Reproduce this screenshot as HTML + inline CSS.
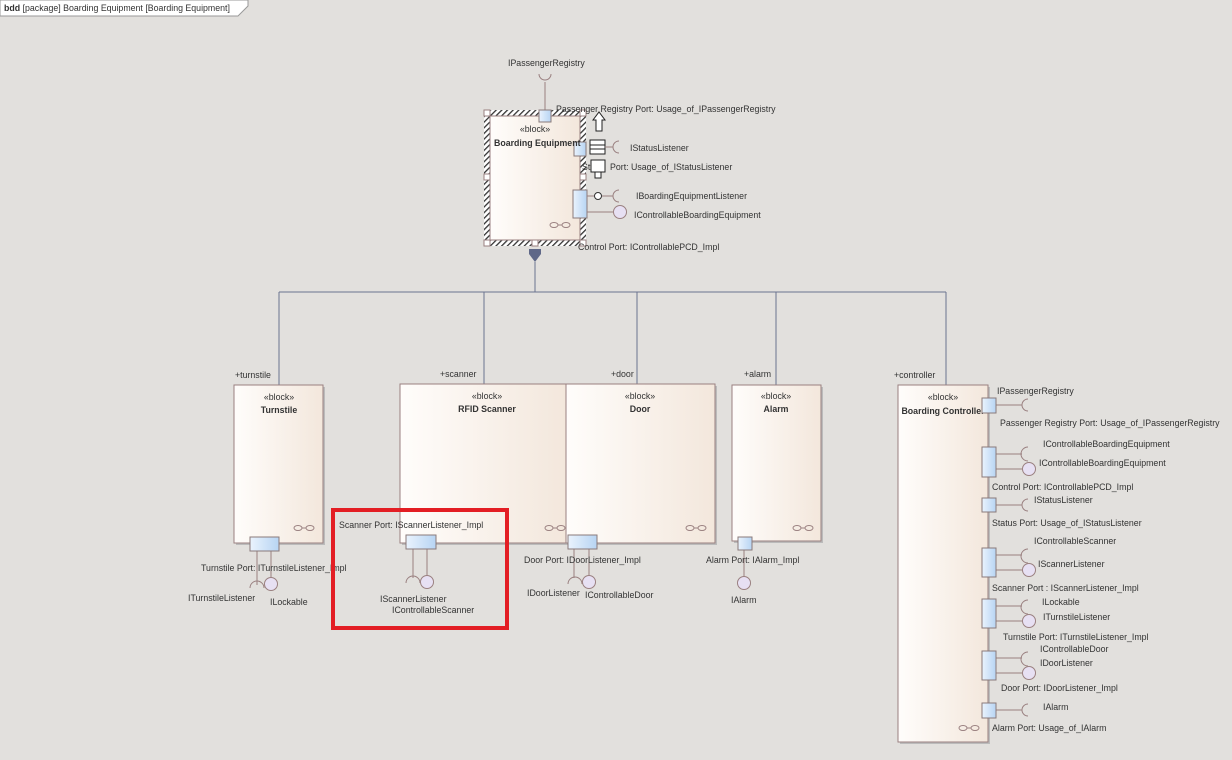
<!DOCTYPE html>
<html><head><meta charset="utf-8"><style>
html,body{margin:0;padding:0;background:#e2e0dd;}
svg{display:block;font-family:"Liberation Sans",sans-serif;font-size:8.8px;fill:#333;}
</style></head><body>
<svg width="1232" height="760" viewBox="0 0 1232 760" xmlns="http://www.w3.org/2000/svg">
<defs>
<linearGradient id="bg" x1="0" x2="1" y1="0" y2="0"><stop offset="0" stop-color="#fffdfb"/><stop offset="1" stop-color="#f3e7dc"/></linearGradient>
<linearGradient id="pg" x1="0" x2="1" y1="0" y2="0"><stop offset="0" stop-color="#eaf3fd"/><stop offset="1" stop-color="#b7d4f3"/></linearGradient>
<pattern id="hat" width="4" height="4" patternUnits="userSpaceOnUse" patternTransform="rotate(45)"><rect width="4" height="4" fill="#fff"/><rect width="1.3" height="4" fill="#333"/></pattern>
</defs>
<rect width="1232" height="760" fill="#e2e0dd"/>
<path d="M0 0 H248 V6 L238 16 H0 Z" fill="#fff" stroke="#999" stroke-width="1"/>
<text x="4" y="11"><tspan font-weight="bold">bdd</tspan> [package] Boarding Equipment [Boarding Equipment]</text>

<g stroke="#6b7390" stroke-width="1" fill="none">
<line x1="535" y1="262" x2="535" y2="292"/>
<line x1="279" y1="292" x2="946" y2="292"/>
<line x1="279" y1="292" x2="279" y2="385"/>
<line x1="484" y1="292" x2="484" y2="384"/>
<line x1="637" y1="292" x2="637" y2="384"/>
<line x1="776" y1="292" x2="776" y2="385"/>
<line x1="946" y1="292" x2="946" y2="385"/>
</g>
<polygon points="529,249 541,249 541,254 535,262 529,254" fill="#5f6888"/>

<rect x="484" y="110" width="102" height="136" fill="url(#hat)"/>
<rect x="490" y="116" width="90" height="124" fill="url(#bg)" stroke="#9a8080"/>
<g fill="#fff" stroke="#9a8080"><rect x="484" y="110" width="6" height="6"/><rect x="580" y="110" width="6" height="6"/><rect x="484" y="174" width="6" height="6"/><rect x="580" y="174" width="6" height="6"/><rect x="484" y="240" width="6" height="6"/><rect x="532" y="240" width="6" height="6"/><rect x="580" y="240" width="6" height="6"/></g>
<g fill="none" stroke="#9a8080"><ellipse cx="554" cy="225" rx="4" ry="2.5"/><ellipse cx="566" cy="225" rx="4" ry="2.5"/><line x1="558" y1="225" x2="562" y2="225"/></g>
<text x="508" y="66">IPassengerRegistry</text>
<g stroke="#9a8080" fill="none"><line x1="545" y1="82" x2="545" y2="110"/><path d="M539 74 A6 6 0 0 0 551 74"/></g>
<rect x="539" y="110" width="12" height="12" fill="url(#pg)" stroke="#8a7a7a"/>
<text x="556" y="112">Passenger Registry Port: Usage_of_IPassengerRegistry</text>
<path d="M596 131 V120 H593 L599 112 L605 120 H602 V131 Z" fill="#fff" stroke="#222"/>
<rect x="574" y="142" width="12" height="14" fill="url(#pg)" stroke="#8a7a7a"/>
<text x="535" y="132" text-anchor="middle">«block»</text>
<text x="494" y="146" font-weight="bold">Boarding Equipment</text>
<rect x="590" y="140" width="15" height="14" fill="#fff" stroke="#222"/><line x1="590" y1="145" x2="605" y2="145" stroke="#222"/><line x1="590" y1="149" x2="605" y2="149" stroke="#222"/>
<g stroke="#9a8080" fill="none"><line x1="605" y1="147" x2="613" y2="147"/><path d="M619 141 A6 6 0 0 0 619 153"/></g>
<text x="630" y="151">IStatusListener</text>
<text x="582" y="170">St</text><text x="610" y="170">Port: Usage_of_IStatusListener</text>
<rect x="591" y="160" width="14" height="12" fill="#fff" stroke="#222"/><rect x="595" y="172" width="6" height="6" fill="#fff" stroke="#222"/>
<rect x="573" y="190" width="14" height="28" fill="url(#pg)" stroke="#8a7a7a"/>
<g stroke="#9a8080" fill="none"><line x1="587" y1="196" x2="595" y2="196"/><line x1="601" y1="196" x2="613" y2="196"/><path d="M619 190 A6 6 0 0 0 619 202"/><line x1="587" y1="212" x2="613" y2="212"/></g>
<circle cx="598" cy="196" r="3.5" fill="#fff" stroke="#333"/>
<circle cx="620" cy="212" r="6.5" fill="#e7e0f3" stroke="#9a8080"/>
<text x="636" y="199">IBoardingEquipmentListener</text>
<text x="634" y="218">IControllableBoardingEquipment</text>
<text x="578" y="250">Control Port: IControllablePCD_Impl</text>

<g stroke="#9a8080">
<rect x="236" y="387" width="89" height="158" fill="#bbb" stroke="none"/>
<rect x="234" y="385" width="89" height="158" fill="url(#bg)"/>
<rect x="402" y="386" width="166" height="159" fill="#bbb" stroke="none"/>
<rect x="400" y="384" width="166" height="159" fill="url(#bg)"/>
<rect x="568" y="386" width="149" height="159" fill="#bbb" stroke="none"/>
<rect x="566" y="384" width="149" height="159" fill="url(#bg)"/>
<rect x="734" y="387" width="89" height="156" fill="#bbb" stroke="none"/>
<rect x="732" y="385" width="89" height="156" fill="url(#bg)"/>
<rect x="900" y="387" width="90" height="357" fill="#bbb" stroke="none"/>
<rect x="898" y="385" width="90" height="357" fill="url(#bg)"/>
</g>
<g text-anchor="middle">
<text x="279" y="400">«block»</text><text x="279" y="413" font-weight="bold">Turnstile</text>
<text x="487" y="399">«block»</text><text x="487" y="412" font-weight="bold">RFID Scanner</text>
<text x="640" y="399">«block»</text><text x="640" y="412" font-weight="bold">Door</text>
<text x="776" y="399">«block»</text><text x="776" y="412" font-weight="bold">Alarm</text>
<text x="943" y="400">«block»</text><text x="943" y="414" font-weight="bold">Boarding Controller</text>
</g>
<text x="235" y="378">+turnstile</text><text x="440" y="377">+scanner</text><text x="611" y="377">+door</text><text x="744" y="377">+alarm</text><text x="894" y="378">+controller</text>
<g fill="none" stroke="#9a8080">
<ellipse cx="298" cy="528" rx="4" ry="2.5"/><ellipse cx="310" cy="528" rx="4" ry="2.5"/><line x1="302" y1="528" x2="306" y2="528"/>
<ellipse cx="549" cy="528" rx="4" ry="2.5"/><ellipse cx="561" cy="528" rx="4" ry="2.5"/><line x1="553" y1="528" x2="557" y2="528"/>
<ellipse cx="690" cy="528" rx="4" ry="2.5"/><ellipse cx="702" cy="528" rx="4" ry="2.5"/><line x1="694" y1="528" x2="698" y2="528"/>
<ellipse cx="797" cy="528" rx="4" ry="2.5"/><ellipse cx="809" cy="528" rx="4" ry="2.5"/><line x1="801" y1="528" x2="805" y2="528"/>
<ellipse cx="963" cy="728" rx="4" ry="2.5"/><ellipse cx="975" cy="728" rx="4" ry="2.5"/><line x1="967" y1="728" x2="971" y2="728"/>
</g>

<g stroke="#9a8080" fill="none">
<line x1="257" y1="551" x2="257" y2="585"/><path d="M250 588 A7 7 0 0 1 264 588"/>
<line x1="271" y1="551" x2="271" y2="578"/>
<line x1="413" y1="549" x2="413" y2="578"/><path d="M406 583 A7 7 0 0 1 420 583"/>
<line x1="427" y1="549" x2="427" y2="576"/>
<line x1="574" y1="549" x2="574" y2="578"/><path d="M568 584 A7 7 0 0 1 582 584"/>
<line x1="589" y1="549" x2="589" y2="576"/>
<line x1="744" y1="550" x2="744" y2="577"/>
</g>
<rect x="250" y="537" width="29" height="14" fill="url(#pg)" stroke="#8a7a7a"/>
<rect x="406" y="535" width="30" height="14" fill="url(#pg)" stroke="#8a7a7a"/>
<rect x="568" y="535" width="29" height="14" fill="url(#pg)" stroke="#8a7a7a"/>
<rect x="738" y="537" width="14" height="13" fill="url(#pg)" stroke="#8a7a7a"/>
<g fill="#e7e0f3" stroke="#9a8080">
<circle cx="271" cy="584" r="6.5"/><circle cx="427" cy="582" r="6.5"/><circle cx="589" cy="582" r="6.5"/><circle cx="744" cy="583" r="6.5"/>
</g>
<text x="201" y="571">Turnstile Port: ITurnstileListener_Impl</text>
<text x="188" y="601">ITurnstileListener</text><text x="270" y="605">ILockable</text>
<text x="339" y="528">Scanner Port: IScannerListener_Impl</text>
<text x="380" y="602">IScannerListener</text><text x="392" y="613">IControllableScanner</text>
<text x="524" y="563">Door Port: IDoorListener_Impl</text>
<text x="527" y="596">IDoorListener</text><text x="585" y="598">IControllableDoor</text>
<text x="706" y="563">Alarm Port: IAlarm_Impl</text>
<text x="731" y="603">IAlarm</text>

<g stroke="#9a8080" fill="none">
<line x1="996" y1="405" x2="1022" y2="405"/><path d="M1028 399 A6 6 0 0 0 1028 411"/>
<line x1="996" y1="454" x2="1022" y2="454"/><path d="M1028 447 A7 7 0 0 0 1028 461"/><line x1="996" y1="469" x2="1022" y2="469"/>
<line x1="996" y1="505" x2="1022" y2="505"/><path d="M1028 499 A6 6 0 0 0 1028 511"/>
<line x1="996" y1="555" x2="1022" y2="555"/><path d="M1028 549 A7 7 0 0 0 1028 563"/><line x1="996" y1="570" x2="1022" y2="570"/>
<line x1="996" y1="606" x2="1022" y2="606"/><path d="M1028 600 A7 7 0 0 0 1028 614"/><line x1="996" y1="621" x2="1022" y2="621"/>
<line x1="996" y1="658" x2="1022" y2="658"/><path d="M1028 652 A7 7 0 0 0 1028 666"/><line x1="996" y1="673" x2="1022" y2="673"/>
<line x1="996" y1="710" x2="1022" y2="710"/><path d="M1028 704 A6 6 0 0 0 1028 716"/>
</g>
<g fill="url(#pg)" stroke="#8a7a7a">
<rect x="982" y="398" width="14" height="15"/><rect x="982" y="447" width="14" height="30"/><rect x="982" y="498" width="14" height="14"/>
<rect x="982" y="548" width="14" height="29"/><rect x="982" y="599" width="14" height="29"/><rect x="982" y="651" width="14" height="29"/><rect x="982" y="703" width="14" height="15"/>
</g>
<g fill="#e7e0f3" stroke="#9a8080">
<circle cx="1029" cy="469" r="6.5"/><circle cx="1029" cy="570" r="6.5"/><circle cx="1029" cy="621" r="6.5"/><circle cx="1029" cy="673" r="6.5"/>
</g>
<text x="997" y="394">IPassengerRegistry</text>
<text x="1000" y="426">Passenger Registry Port: Usage_of_IPassengerRegistry</text>
<text x="1043" y="447">IControllableBoardingEquipment</text>
<text x="1039" y="466">IControllableBoardingEquipment</text>
<text x="992" y="490">Control Port: IControllablePCD_Impl</text>
<text x="1034" y="503">IStatusListener</text>
<text x="992" y="526">Status Port: Usage_of_IStatusListener</text>
<text x="1034" y="544">IControllableScanner</text>
<text x="1038" y="567">IScannerListener</text>
<text x="992" y="591">Scanner Port  : IScannerListener_Impl</text>
<text x="1042" y="605">ILockable</text>
<text x="1043" y="620">ITurnstileListener</text>
<text x="1003" y="640">Turnstile Port: ITurnstileListener_Impl</text>
<text x="1040" y="652">IControllableDoor</text>
<text x="1040" y="666">IDoorListener</text>
<text x="1001" y="691">Door Port: IDoorListener_Impl</text>
<text x="1043" y="710">IAlarm</text>
<text x="992" y="731">Alarm Port: Usage_of_IAlarm</text>

<rect x="333" y="510" width="174" height="118" fill="none" stroke="#e31e24" stroke-width="4"/>
</svg>
</body></html>
